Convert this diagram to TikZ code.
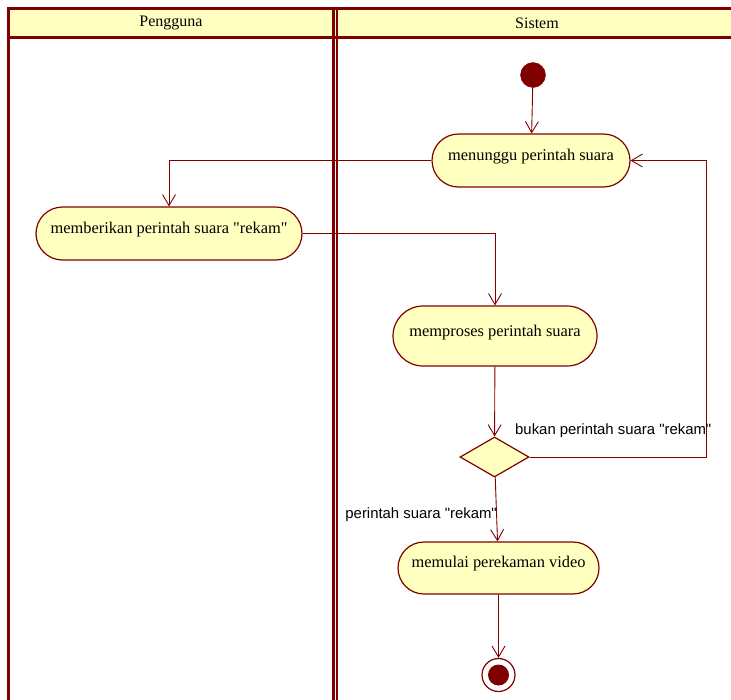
\documentclass[tikz,border=0pt]{standalone}
\usepackage{fontspec}
\setmainfont{Liberation Serif}
\newfontfamily\nodefont{Liberation Serif}
\newfontfamily\lblfont{Liberation Sans}
\usetikzlibrary{arrows.meta,shapes.misc,shapes.geometric}
\definecolor{umlred}{HTML}{800000}
\definecolor{umlfill}{HTML}{FFFFC0}
\tikzset{
  lane/.style={draw=umlred,line width=3pt},
  activity/.style={rounded rectangle,draw=umlred,fill=umlfill,line width=1.2pt,
    inner sep=0pt,font=\nodefont\fontsize{16.4}{19}\selectfont},
  decision/.style={diamond,draw=umlred,fill=umlfill,line width=1.2pt,inner sep=0pt,
    minimum width=69pt,minimum height=40pt},
  flow/.style={draw=umlred,line width=0.9pt,-{Straight Barb[length=11pt,width=13pt]}},
  guard/.style={font=\lblfont\fontsize{14.9}{17}\selectfont,inner sep=0pt},
  header/.style={font=\nodefont\fontsize{16}{18}\selectfont,inner sep=0pt}
}
\newcommand{\uptext}[2][10.5pt]{\raisebox{#1}{#2}}
\begin{document}
\begin{tikzpicture}[x=1pt,y=-1pt]
\useasboundingbox (0,0) rectangle (731,699);
\fill[white] (0,0) rectangle (731,699);
% swimlane frame
\fill[umlfill] (8,8) rectangle (731,37);
\draw[lane] (8,710) -- (8,8) -- (731,8);
\draw[lane] (8,37) -- (731,37);
\draw[lane] (333.5,8) -- (333.5,710);
\draw[umlred,line width=1.5pt] (337,8) -- (337,710);
\node[header] (hp) at (171,23) {Pengguna};
\node[header] (hs) at (537,23) {Sistem};
% states
\node[circle,fill=umlred,draw=umlred,minimum size=25pt,inner sep=0pt] (init) at (533,75) {};
\node[activity,minimum width=198pt,minimum height=53pt] (wait) at (531,160.5) {\uptext{menunggu perintah suara}};
\node[activity,minimum width=266pt,minimum height=53pt] (give) at (169,233.5) {\uptext{memberikan perintah suara "rekam"}};
\node[activity,minimum width=204pt,minimum height=60pt] (proc) at (495,336) {\uptext{memproses perintah suara}};
\node[decision] (dec) at (494.5,457) {};
\node[activity,minimum width=201pt,minimum height=52pt] (rec) at (498.5,568) {\uptext[13pt]{memulai perekaman video}};
\node[circle,draw=umlred,line width=1.2pt,minimum size=33pt,inner sep=0pt] (final) at (498.5,675) {};
\node[circle,fill=umlred,minimum size=21pt,inner sep=0pt] (finaldot) at (final.center) {};
\coordinate (loop) at (706,457);
% flows
\draw[flow] (init) -- (wait);
\draw[flow] (wait.west) -| (give.north);
\draw[flow] (give.east) -| (proc.north);
\draw[flow] (proc) -- (dec);
\draw[flow] (dec.east) -- (loop) |- (wait.east);
\draw[flow] (dec) -- (rec);
\draw[flow] (rec) -- (final);
% guards
\node[guard,anchor=base west] (gno) at (515,434) {bukan perintah suara "rekam"};
\node[guard,anchor=base east] (gyes) at (497,518) {perintah suara "rekam"};
\end{tikzpicture}
\end{document}
